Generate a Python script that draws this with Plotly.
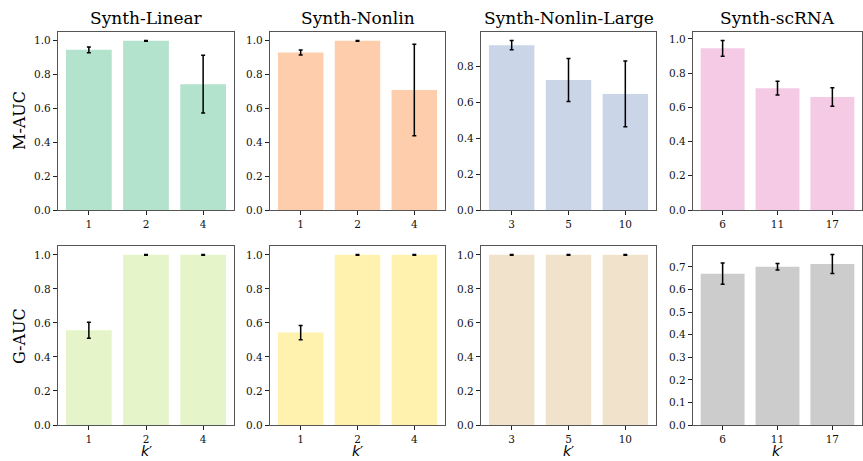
import plotly.graph_objects as go

W, H = 863, 461

titles = ["Synth-Linear", "Synth-Nonlin", "Synth-Nonlin-Large", "Synth-scRNA"]
k_labels = [["1", "2", "4"], ["1", "2", "4"], ["3", "5", "10"], ["6", "11", "17"]]

m_auc = [[0.947, 1.000, 0.744], [0.931, 1.000, 0.709], [0.920, 0.726, 0.648], [0.945, 0.712, 0.661]]
m_err = [[0.017, 0.002, 0.170], [0.015, 0.002, 0.270], [0.026, 0.120, 0.183], [0.046, 0.040, 0.054]]
g_auc = [[0.557, 1.000, 1.000], [0.543, 1.000, 1.000], [1.000, 1.000, 1.000], [0.670, 0.701, 0.713]]
g_err = [[0.047, 0.002, 0.002], [0.042, 0.002, 0.002], [0.002, 0.002, 0.002], [0.047, 0.014, 0.042]]

m_colors = ["#b3e2cd", "#fdcdac", "#cbd5e8", "#f4cae4"]
g_colors = ["#e6f5c9", "#fff2ae", "#f1e2cc", "#cccccc"]

x_px = [(58, 234), (270, 445), (481, 656), (693, 862)]
top_px = (32, 210)
bot_px = (246, 425)

SERIF = "DejaVu Serif"
fig = go.Figure()

def ydom(p):
    return [1 - p[1] / H, 1 - p[0] / H]

axis_common = dict(showline=True, linecolor="#555", linewidth=1.2, mirror=True,
                   ticks="outside", ticklen=4, tickwidth=1, tickcolor="#222",
                   showgrid=False, zeroline=False, automargin=False,
                   tickfont=dict(family=SERIF, size=10.5, color="#111"))

idx = 0
for row, (vals, errs, cols, ypx) in enumerate([(m_auc, m_err, m_colors, top_px), (g_auc, g_err, g_colors, bot_px)]):
    for c in range(4):
        idx += 1
        xa = "x" if idx == 1 else f"x{idx}"
        ya = "y" if idx == 1 else f"y{idx}"
        fig.add_trace(go.Bar(
            x=k_labels[c], y=vals[c],
            marker=dict(color=cols[c], line=dict(width=0)),
            error_y=dict(type="data", array=errs[c], color="black", thickness=1.5, width=2),
            width=0.8, xaxis=xa, yaxis=ya, showlegend=False))
        top = max(v + e for v, e in zip(vals[c], errs[c])) * 1.05
        dtick = 0.1 if top < 0.85 else 0.2
        xkey = "xaxis" if idx == 1 else f"xaxis{idx}"
        ykey = "yaxis" if idx == 1 else f"yaxis{idx}"
        fig.update_layout(**{
            xkey: dict(domain=[x_px[c][0] / W, x_px[c][1] / W], anchor=ya, type="category",
                       range=[-0.54, 2.54], **axis_common),
            ykey: dict(domain=ydom(ypx), anchor=xa, range=[0, top], dtick=dtick,
                       tickformat=".1f", **axis_common),
        })

for c in range(4):
    cx = (x_px[c][0] + x_px[c][1]) / 2 / W
    fig.add_annotation(text=titles[c], x=cx, y=1 - 18 / H, xref="paper", yref="paper",
                       showarrow=False, xanchor="center", yanchor="middle",
                       font=dict(family=SERIF, size=17, color="black"))
    fig.add_annotation(text="<i>k</i>′", x=cx, y=1 - 451 / H, xref="paper", yref="paper",
                       showarrow=False, xanchor="center", yanchor="middle",
                       font=dict(family="DejaVu Sans", size=14, color="black"))

for label, py in [("M-AUC", 121), ("G-AUC", 336)]:
    fig.add_annotation(text=label, x=19 / W, y=1 - py / H, xref="paper", yref="paper",
                       showarrow=False, xanchor="center", yanchor="middle", textangle=-90,
                       font=dict(family=SERIF, size=16, color="black"))

fig.update_layout(width=W, height=H, margin=dict(l=0, r=0, t=0, b=0, autoexpand=False),
                  template="none",
                  plot_bgcolor="white", paper_bgcolor="white", bargap=0.2)

fig.write_html("out.html")
